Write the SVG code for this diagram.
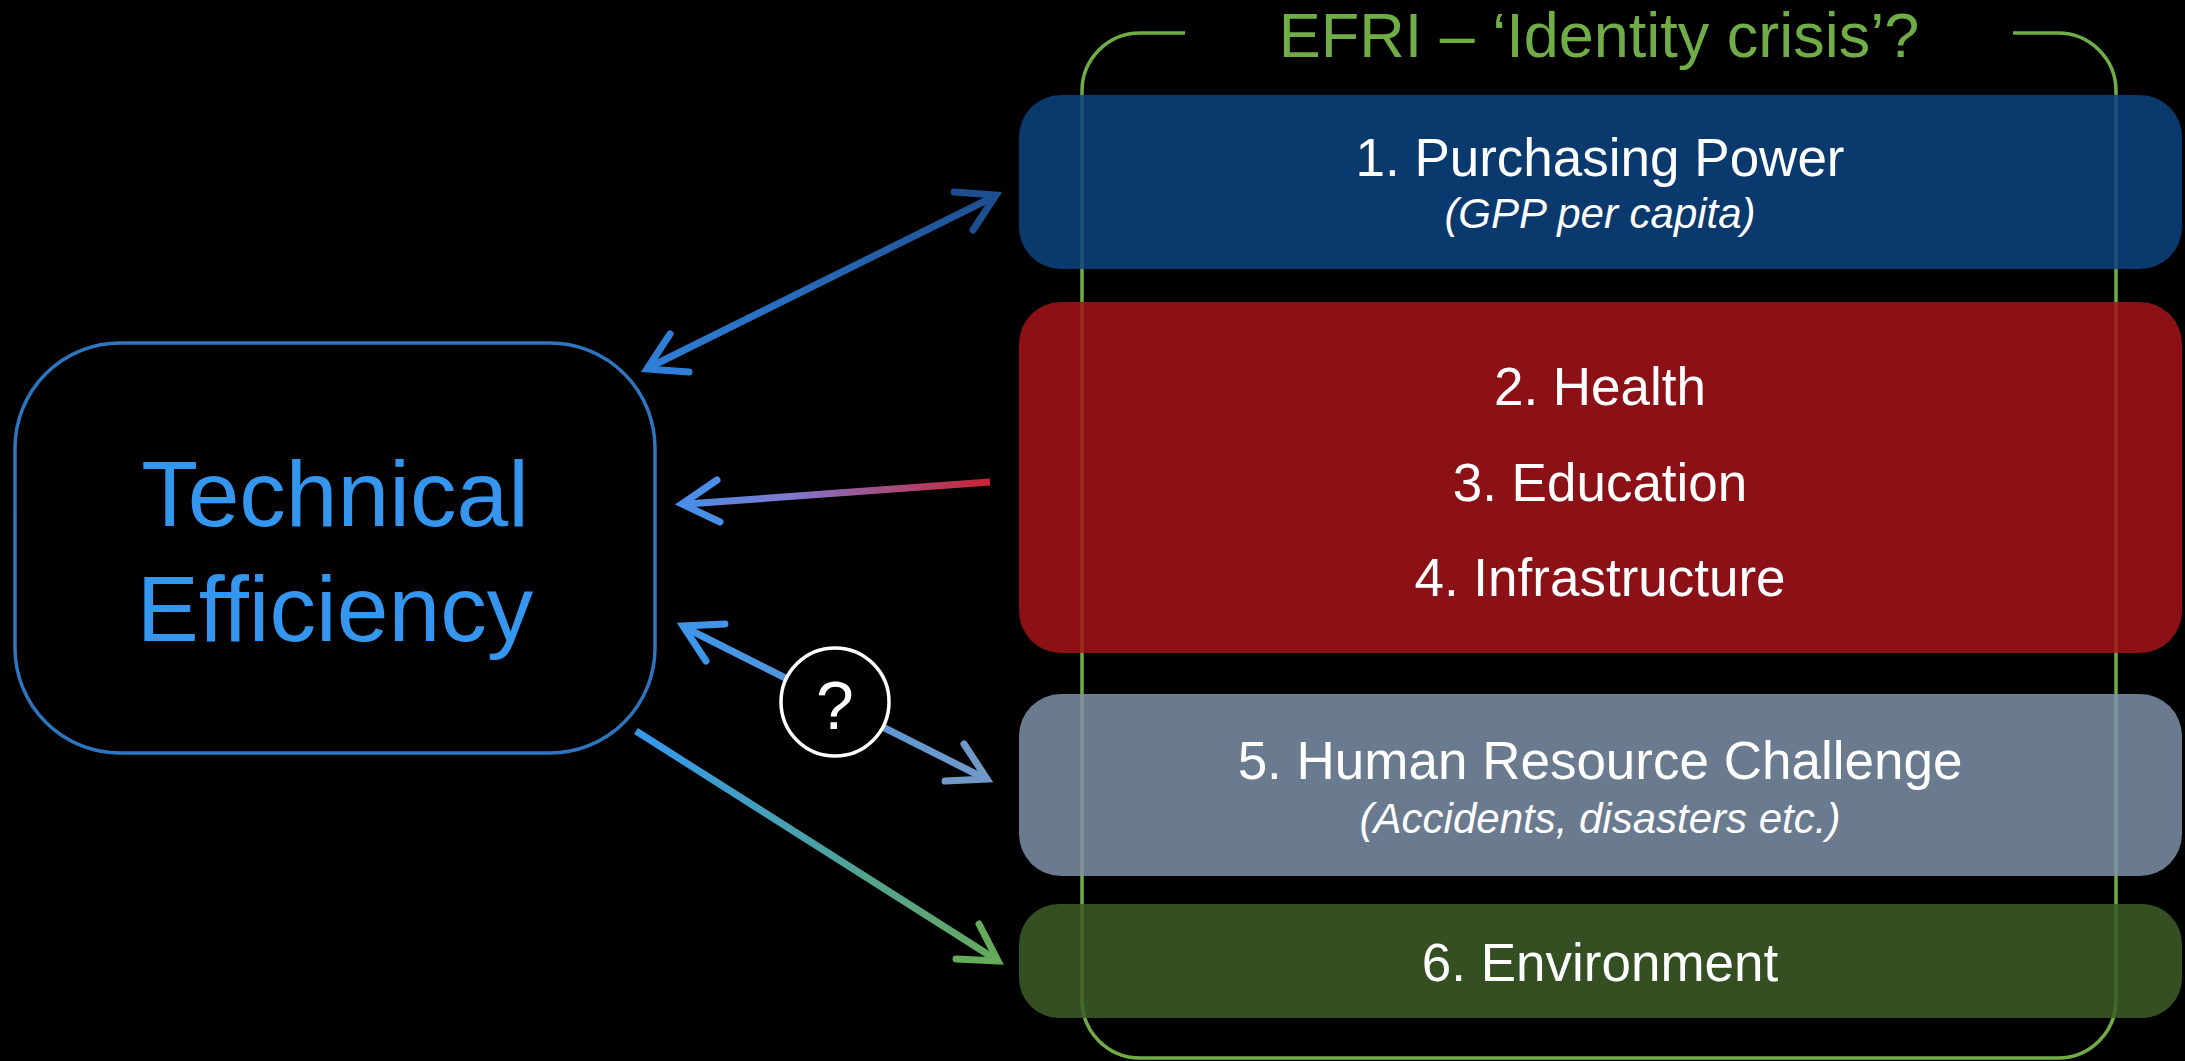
<svg xmlns="http://www.w3.org/2000/svg" width="2185" height="1061" viewBox="0 0 2185 1061">
  <style>
    .t { font-family: "Liberation Sans", Arial, sans-serif; fill: #ffffff; text-anchor: middle; }
    .main { font-size: 53px; }
    .sub { font-size: 42px; font-style: italic; }
    .box { opacity: 0.85; }
    .line { fill: none; stroke-width: 7; }
    .head { fill: none; stroke-width: 7; stroke-linecap: round; stroke-linejoin: miter; }
  </style>
  <defs>
    <linearGradient id="g1" gradientUnits="userSpaceOnUse" x1="647" y1="369" x2="996" y2="195">
      <stop offset="0" stop-color="#2f7fd8"/>
      <stop offset="1" stop-color="#1d4f90"/>
    </linearGradient>
    <linearGradient id="g2" gradientUnits="userSpaceOnUse" x1="682" y1="504" x2="990" y2="482">
      <stop offset="0" stop-color="#4a8ee8"/>
      <stop offset="0.35" stop-color="#7f78cc"/>
      <stop offset="1" stop-color="#cc2233"/>
    </linearGradient>
    <linearGradient id="g3" gradientUnits="userSpaceOnUse" x1="683" y1="626" x2="987" y2="779">
      <stop offset="0" stop-color="#3f95ea"/>
      <stop offset="1" stop-color="#7199c8"/>
    </linearGradient>
    <linearGradient id="g4" gradientUnits="userSpaceOnUse" x1="636" y1="731" x2="998" y2="961">
      <stop offset="0" stop-color="#3399f0"/>
      <stop offset="1" stop-color="#66aa5c"/>
    </linearGradient>
  </defs>
  <rect x="0" y="0" width="2185" height="1061" fill="#000000"/>

  <g id="efri-bracket">
    <path d="M1185,33 H1140 A58,58 0 0 0 1082,91 V1000 A58,58 0 0 0 1140,1058 H2058 A58,58 0 0 0 2116,1000 V91 A58,58 0 0 0 2058,33 H2013" fill="none" stroke="#70ad47" stroke-width="3.5"/>
    <text class="t" x="1599" y="57" font-size="63" style="fill:#70ad47">EFRI – ‘Identity crisis’?</text>
  </g>

  <g id="purchasing-power">
    <rect class="box" x="1019" y="95" width="1163" height="174" rx="42" fill="#0c4480"/>
    <text class="t main" x="1600" y="176">1. Purchasing Power</text>
    <text class="t sub" x="1600" y="228">(GPP per capita)</text>
  </g>

  <g id="health-education-infrastructure">
    <rect class="box" x="1019" y="302" width="1163" height="351" rx="42" fill="#a4141b"/>
    <text class="t main" x="1600" y="405">2. Health</text>
    <text class="t main" x="1600" y="501">3. Education</text>
    <text class="t main" x="1600" y="596">4. Infrastructure</text>
  </g>

  <g id="human-resource">
    <rect class="box" x="1019" y="694" width="1163" height="182" rx="42" fill="#7e90a8"/>
    <text class="t main" x="1600" y="779">5. Human Resource Challenge</text>
    <text class="t sub" x="1600" y="833">(Accidents, disasters etc.)</text>
  </g>

  <g id="environment">
    <rect class="box" x="1019" y="904" width="1163" height="114" rx="40" fill="#3d5d28"/>
    <text class="t main" x="1600" y="981">6. Environment</text>
  </g>

  <g id="technical-efficiency">
    <rect x="15" y="343" width="640" height="410" rx="105" fill="none" stroke="#2e75c0" stroke-width="3.5"/>
    <text class="t" x="335" y="526" font-size="93" style="fill:#3596f0">Technical</text>
    <text class="t" x="335" y="641" font-size="93" style="fill:#3596f0">Efficiency</text>
  </g>

  <g id="connectors">
    <line class="line" x1="652" y1="366" x2="991" y2="198" stroke="url(#g1)"/>
    <polyline class="head" points="689,372 647,369 670,334" stroke="#2f7fd8"/>
    <polyline class="head" points="954,192 996,195 973,230" stroke="#1d4f90"/>

    <line class="line" x1="990" y1="482" x2="687" y2="504" stroke="url(#g2)"/>
    <polyline class="head" points="720,522 682,504 717,480" stroke="#4a8ee8"/>

    <line class="line" x1="688" y1="629" x2="982" y2="777" stroke="url(#g3)"/>
    <polyline class="head" points="706,661 683,626 725,624" stroke="#3f95ea"/>
    <polyline class="head" points="964,744 987,779 945,781" stroke="#7199c8"/>

    <line class="line" x1="636" y1="731" x2="992" y2="957" stroke="url(#g4)"/>
    <polyline class="head" points="979,924 998,961 956,959" stroke="#66aa5c"/>
  </g>

  <g id="question-mark">
    <circle cx="835" cy="702" r="54" fill="#000000" stroke="#ffffff" stroke-width="3.5"/>
    <text class="t" x="835" y="729" font-size="68">?</text>
  </g>
</svg>
